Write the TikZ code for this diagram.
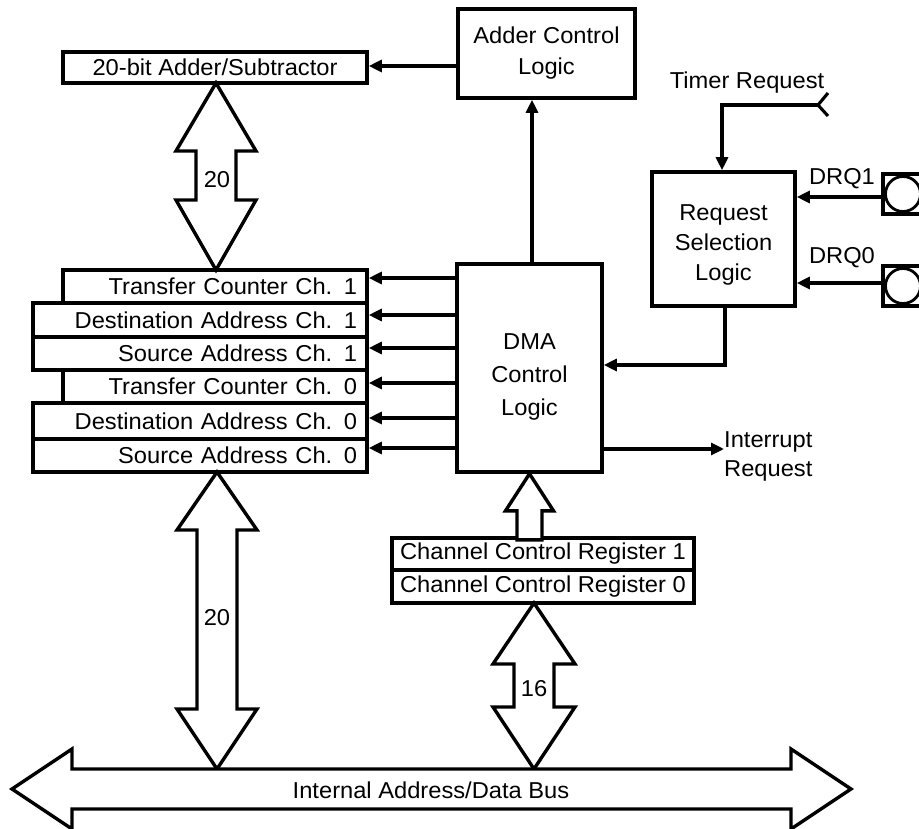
\documentclass[tikz,border=0pt]{standalone}
\usepackage{fontspec}
\setmainfont{Liberation Sans}[FakeStretch=1.03]
\usetikzlibrary{arrows.meta}
\newcommand{\vbiarrow}[7]{% x, ytop, ybot, head half width, shaft half width, shoulder1, shoulder2
  \draw[blk] (#1,#2) -- (#1+#4,#6) -- (#1+#5,#6) -- (#1+#5,#7) -- (#1+#4,#7) -- (#1,#3)
    -- (#1-#4,#7) -- (#1-#5,#7) -- (#1-#5,#6) -- (#1-#4,#6) -- cycle;}
\begin{document}
\begin{tikzpicture}[x=1pt,y=-1pt,
  every node/.style={font=\fontsize{23}{31}\selectfont},
  box/.style={draw, line width=3.6pt, fill=white, inner sep=0pt, align=center},
  reg/.style={box, inner xsep=10pt, align=right},
  conn/.style={line width=3.1pt, -{Triangle[length=13pt,width=12pt]}},
  wire/.style={line width=3.1pt},
  blk/.style={draw, line width=3.4pt, fill=white, line join=miter, miter limit=10},
  lbl/.style={inner sep=0pt}]
\fill[white] (0,0) rectangle (919,829);
\useasboundingbox (0,0) rectangle (919,829);
\clip (0,0) rectangle (919,829);

% boxes
\node[box, minimum width=304pt, minimum height=31pt] (adder) at (215,67.5) {20-bit Adder/Subtractor};
\node[box, minimum width=177pt, minimum height=89pt] (acl) at (546.5,53.5) {Adder Control\\Logic};

\node[reg, text width=284pt, minimum height=33pt] (tc1) at (215,286.5) {Transfer Counter Ch. 1};
\node[reg, text width=314pt, minimum height=34pt] (da1) at (200,320) {Destination Address Ch. 1};
\node[reg, text width=314pt, minimum height=33pt] (sa1) at (200,353.5) {Source Address Ch. 1};
\node[reg, text width=284pt, minimum height=33pt] (tc0) at (215,386.5) {Transfer Counter Ch. 0};
\node[reg, text width=314pt, minimum height=36pt] (da0) at (200,421) {Destination Address Ch. 0};
\node[reg, text width=314pt, minimum height=33pt] (sa0) at (200,455.5) {Source Address Ch. 0};

\node[box, minimum width=145pt, minimum height=208pt] (dma) at (529.5,368) {};
\node[lbl, align=center, font=\fontsize{23}{33}\selectfont] (dmatxt) at (529.5,377) {DMA\\Control\\Logic};

\node[box, minimum width=143pt, minimum height=134pt] (req) at (723.5,239) {};
\node[lbl, align=center, font=\fontsize{23}{30}\selectfont] (reqtxt) at (723.5,245) {Request\\Selection\\Logic};

\node[box, minimum width=302pt, minimum height=32pt] (ccr1) at (543,554) {Channel Control Register 1};
\node[box, minimum width=302pt, minimum height=33pt] (ccr0) at (543,586.5) {Channel Control Register 0};

% pins
\node[draw, line width=3.6pt, minimum size=40pt, inner sep=0pt, fill=white] (p1) at (903,194) {};
\draw[line width=2.8pt] (p1.center) circle (17.5pt);
\node[draw, line width=3.6pt, minimum size=40pt, inner sep=0pt, fill=white] (p0) at (903,286) {};
\draw[line width=2.8pt] (p0.center) circle (17.5pt);

% labels
\node[lbl] (timer) at (747,83) {Timer Request};
\node[lbl] (drq1) at (842,179) {DRQ1};
\node[lbl] (drq0) at (842,258) {DRQ0};
\node[lbl, align=left, anchor=west, font=\fontsize{23}{29}\selectfont] (intr) at (724,456) {Interrupt\\Request};

% connectors
\draw[conn] (acl.west |- 0,66) -- (adder.east |- 0,66);
\draw[conn] (dma.north -| 532,0) -- (acl.south -| 532,0);
\foreach \r/\yy in {tc1/278, da1/315, sa1/348, tc0/383, da0/418, sa0/448}
  \draw[conn] (dma.west |- 0,\yy) -- (\r.east |- 0,\yy);
\coordinate (tpin) at (818,105);
\draw[wire, line join=miter] (828,93) -- (tpin) -- (828,116);
\draw[conn] (tpin) -| (req.north -| 722,0);
\draw[conn] (p1.west |- 0,197) -- (req.east |- 0,197);
\draw[conn] (p0.west |- 0,283) -- (req.east |- 0,283);
\draw[conn] (req.south -| 725,0) |- (dma.east |- 0,365);
\draw[conn] (dma.east |- 0,449) -- (intr.west |- 0,449);

% block arrows
\draw[blk] (dma.south) -- ++(24,37) -- ++(-11.5,0) -- ++(0,29) -- ++(-25,0) -- ++(0,-29) -- ++(-11.5,0) -- cycle;
\vbiarrow{216}{83}{270}{40}{20}{151}{200}
\vbiarrow{217}{472}{769}{40}{20}{530}{709}
\vbiarrow{534}{603}{769}{41}{20}{664}{707}
\node[lbl] (n20a) at (217,180) {20};
\node[lbl] (n20b) at (217,618) {20};
\node[lbl] (n16) at (534,689) {16};

% bus
\draw[blk] (12,789) -- (72,749) -- (72,769) -- (791,769) -- (791,749) -- (851,789)
  -- (791,829) -- (791,809) -- (72,809) -- (72,829) -- cycle;
\node[lbl] (bus) at (431,790) {Internal Address/Data Bus};
\end{tikzpicture}
\end{document}
